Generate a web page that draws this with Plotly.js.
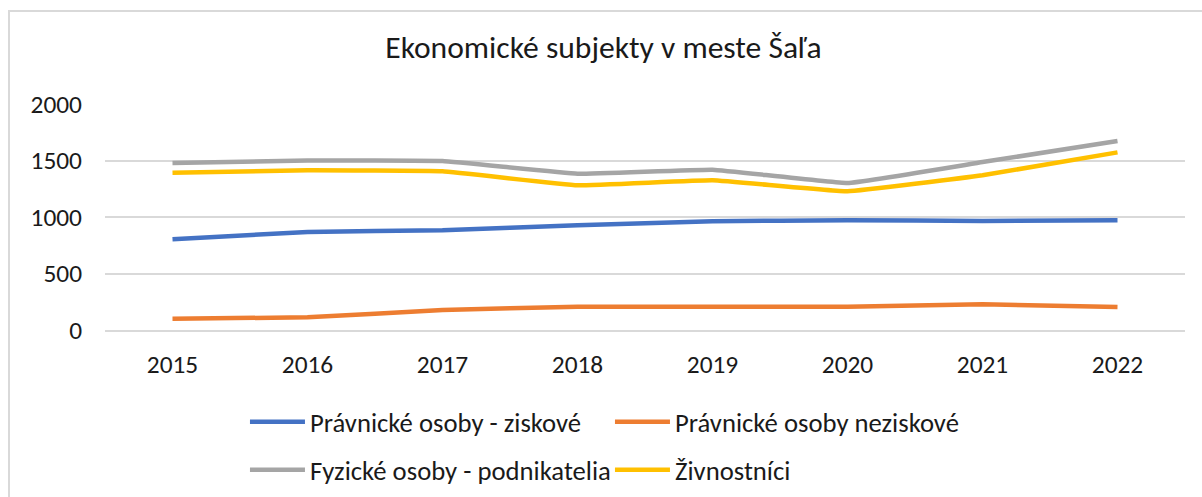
<!DOCTYPE html>
<html>
<head>
<meta charset="utf-8">
<script src="https://cdn.plot.ly/plotly-3.0.1.min.js"></script>
<style>
  html, body { margin: 0; padding: 0; background: #ffffff; }
  #wrap { position: relative; width: 1202px; height: 497px; overflow: hidden; }
  #chart { position: absolute; left: 0; top: 0; width: 1202px; height: 497px; }
  #frame { position: absolute; left: 8px; top: 10px; width: 1300px; height: 600px;
           border-top: 2px solid #d9d9d9; border-left: 2px solid #d9d9d9; pointer-events: none; }
</style>
</head>
<body>
<div id="wrap">
  <div id="chart"></div>
  <div id="frame"></div>
</div>
<script>
const years = ['2015', '2016', '2017', '2018', '2019', '2020', '2021', '2022'];
const seriesNames = ['Právnické osoby - ziskové', 'Právnické osoby neziskové', 'Fyzické osoby - podnikatelia', 'Živnostníci'];
const pravnickeZiskove = [804, 868, 883, 927, 962, 971, 965, 971];
const pravnickeNeziskove = [100, 112, 177, 206, 206, 206, 227, 203];
const fyzickePodnikatelia = [1477, 1500, 1495, 1383, 1419, 1301, 1486, 1672];
const zivnostnici = [1392, 1413, 1404, 1280, 1325, 1227, 1369, 1572];
const yTicks = [0, 500, 1000, 1500, 2000];
const chartTitle = 'Ekonomické subjekty v meste Šaľa';

const colors = ['#4472C4', '#ED7D31', '#A5A5A5', '#FFC000'];
const values = [pravnickeZiskove, pravnickeNeziskove, fyzickePodnikatelia, zivnostnici];
const legends = ['legend', 'legend', 'legend2', 'legend2'];
const fontFam = 'Carlito, Calibri, Lato, "Liberation Sans", Arial, sans-serif';
const textColor = '#1a1a1a';

const traces = values.map((v, i) => ({
  type: 'scatter',
  mode: 'lines',
  x: years,
  y: v,
  name: seriesNames[i],
  legend: legends[i],
  line: { color: colors[i], width: 4.5, shape: 'spline', smoothing: 0.25 },
  hoverinfo: 'x+y+name'
}));

const legendCommon = {
  orientation: 'h',
  xref: 'container', yref: 'container',
  xanchor: 'left', yanchor: 'middle',
  itemwidth: 55,
  entrywidth: 295, entrywidthmode: 'pixels',
  font: { family: fontFam, size: 26.7, color: textColor },
  bgcolor: 'rgba(0,0,0,0)',
  itemclick: false, itemdoubleclick: false
};

const layout = {
  width: 1202, height: 497,
  margin: { l: 105, r: 17, t: 104, b: 167 },
  paper_bgcolor: '#ffffff',
  plot_bgcolor: '#ffffff',
  title: {
    text: chartTitle,
    font: { family: fontFam, size: 31.6, color: textColor },
    xref: 'container', x: 0.502, xanchor: 'center',
    yref: 'container', y: 0.905, yanchor: 'middle'
  },
  xaxis: {
    type: 'category',
    range: [-0.5, 7.5],
    showgrid: false,
    showline: true, linecolor: '#d9d9d9', linewidth: 1.5,
    ticks: '',
    ticklabelstandoff: 11,
    tickfont: { family: fontFam, size: 25.4, color: textColor },
    fixedrange: true
  },
  yaxis: {
    range: [0, 2000],
    tickvals: yTicks,
    ticktext: yTicks.map(String),
    showgrid: true, gridcolor: '#d9d9d9', gridwidth: 1.5,
    zeroline: true, zerolinecolor: '#d9d9d9', zerolinewidth: 1.5,
    showline: false,
    ticks: '',
    ticklabelstandoff: 22,
    tickfont: { family: fontFam, size: 25.4, color: textColor },
    fixedrange: true
  },
  legend: Object.assign({}, legendCommon, { x: 0.2038, y: 0.1509 }),
  legend2: Object.assign({}, legendCommon, { x: 0.2038, y: 0.0543 }),
  showlegend: true
};

Plotly.newPlot('chart', traces, layout, { displayModeBar: false, staticPlot: false, responsive: false });
</script>
</body>
</html>
